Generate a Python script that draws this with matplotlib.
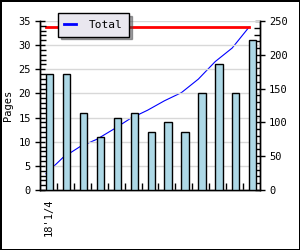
#!/usr/bin/env python3
# -*- coding: utf-8 -*-
"""Weekly pages (bars, left axis) with running total (line, right axis)."""

import numpy as np
import matplotlib
matplotlib.use("Agg")
import matplotlib.pyplot as plt
from matplotlib.ticker import MultipleLocator, FixedLocator

plt.rcParams['font.family'] = ['DejaVu Sans Mono']

# data
PAGES = [24, 24, 16, 11, 15, 16, 12, 14, 12, 20, 26, 20, 31]
TOTAL = [24, 48, 64, 75, 90, 106, 118, 132, 144, 164, 190, 210, 241]
GOAL = [241, 241]
XLABELS = ["18'1/4"]

FS = 7.5

def main():
    n = len(PAGES)
    x = np.arange(n)
    xp = x - 0.145   # point / bar-left position inside each slot

    fig = plt.figure(figsize=(3.0, 2.5), dpi=100)
    fig.patch.set_facecolor('white')
    fig.patch.set_edgecolor('black')
    fig.patch.set_linewidth(2)

    ax = fig.add_axes([40/300, 60/250, 220/300, 169/250])
    ax2 = ax.twinx()
    ax.set_zorder(ax2.get_zorder() + 1)
    ax.patch.set_visible(False)

    # right axis: running total + goal line (drawn beneath the bars)
    ln, = ax2.plot(xp, TOTAL, color='#0000ff', lw=0.8, label='Total')
    ax2.plot([xp[0], xp[-1]], GOAL, color='#ff0000', lw=2.0)

    # left axis: bars
    ax.bar(xp, PAGES, width=0.43, align='edge', color='#add8e6',
           edgecolor='black', linewidth=1.0, zorder=3)

    ax.set_xlim(-0.5, n - 0.5)
    ax.set_ylim(0, 35)
    ax2.set_ylim(0, 250)

    ax.yaxis.set_major_locator(MultipleLocator(5))
    ax.yaxis.set_minor_locator(MultipleLocator(1))
    ax2.yaxis.set_major_locator(MultipleLocator(50))
    ax2.yaxis.set_minor_locator(MultipleLocator(10))

    ax.set_xticks([0])
    ax.set_xticklabels(XLABELS, rotation=90, fontsize=FS)
    ax.xaxis.set_minor_locator(FixedLocator(np.arange(n - 1) + 0.5))
    ax.tick_params(axis='x', which='major', length=0, pad=6)
    ax.tick_params(axis='x', which='minor', direction='in', length=5, width=1)

    ax.tick_params(axis='y', which='major', direction='inout', length=7,
                   width=1, labelsize=FS, pad=3)
    ax.tick_params(axis='y', which='minor', direction='in', length=4, width=1)
    ax2.tick_params(axis='y', which='major', direction='inout', length=7,
                    width=1, labelsize=FS, pad=3)
    ax2.tick_params(axis='y', which='minor', direction='in', length=4, width=1)

    ax.grid(True, axis='y', which='major', color='#d8d8d8', lw=1.0)
    ax.set_axisbelow(True)

    for a in (ax, ax2):
        a.spines['top'].set_visible(False)
        for s in ('left', 'right', 'bottom'):
            a.spines[s].set_linewidth(1.0)

    ax.set_ylabel('Pages', fontsize=FS, labelpad=4)

    leg = ax.legend(handles=[ln], loc='center',
                    bbox_to_anchor=(93.5/300, 1 - 25/250),
                    bbox_transform=fig.transFigure, fontsize=8,
                    frameon=True, fancybox=False, shadow=True,
                    handlelength=1.0, handletextpad=1.2, borderpad=0.6)
    leg.get_frame().set_facecolor('#e9e7ef')
    leg.get_frame().set_edgecolor('black')
    leg.get_frame().set_linewidth(1.0)
    leg.get_frame().set_alpha(1)
    leg.get_lines()[0].set_linewidth(2)

    fig.savefig('out.png', dpi=100)
    plt.close(fig)

if __name__ == "__main__":
    main()
